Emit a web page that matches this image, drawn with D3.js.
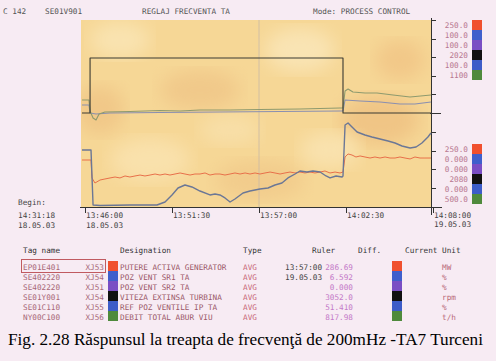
<!DOCTYPE html>
<html><head><meta charset="utf-8">
<script src="https://cdn.jsdelivr.net/npm/d3@7"></script>
<style>
html,body{margin:0;padding:0;background:#f7ebf3;}
svg{display:block;}
.mono{font-family:"DejaVu Sans Mono",monospace;font-size:7.7px;}
</style></head>
<body><div id="chart"></div>
<script>
// ---------- DATA ----------
const header = ["C 142", "SE01V901", "REGLAJ FRECVENTA TA", "Mode: PROCESS CONTROL"];
const tickTimes = [0, 5.5, 11, 16.5, 22];              // minutes after 13:46:00
const tickLabels = ["13:46:00", "13:51:30", "13:57:00", "14:02:30", "14:08:00"];
const seriesColors = ["#f0502e", "#3f5fcc", "#7a4ec4", "#111111", "#3d5cc8", "#4f8a3c"];
const upperScaleLabels = ["250.0", "100.0", "100.0", "2020", "100.0", "1100"];
const lowerScaleLabels = ["250.0", "0.000", "0.000", "2080", "0.000", "500.0"];
const tagNames = ["EP01E401", "SE402220", "SE402220", "SE01Y001", "SE01C110", "NY00C100"];
const tagCodes = ["XJ53", "XJ54", "XJ51", "XJ54", "XJ55", "XJ56"];
const designations = ["PUTERE ACTIVA GENERATOR", "POZ VENT SR1 TA", "POZ VENT SR2 TA", "VITEZA EXTINSA TURBINA", "REF POZ VENTILE IP TA", "DEBIT TOTAL ABUR VIU"];
const types = ["AVG", "AVG", "AVG", "AVG", "AVG", "AVG"];
const rulerValues = ["286.69", "6.592", "0.000", "3052.0", "51.410", "817.98"];
const units = ["MW", "%", "%", "rpm", "%", "t/h"];

// Upper panel series (percent of panel height), [minute, value]
const speedStep = [[-0.19,0],[0.32,0],[0.32,59.1],[16.31,59.1],[16.31,0],[21.87,0]];
const steamFlow = [[-0.19,14.0],[0.25,14.0],[0.32,2.2],[0.51,-5.4],[0.70,-7.5],[0.89,-1.1],[1.26,1.1],[2.84,1.6],[4.74,2.7],[6.01,2.2],[7.27,3.2],[9.17,3.2],[11.06,3.8],[13.59,4.3],[16.12,5.4],[16.31,5.4],[16.44,23.7],[16.63,25.8],[16.94,22.6],[17.70,21.5],[18.46,21.5],[19.47,19.4],[20.55,17.2],[21.87,19.4]];
const valvePos2 = [[-0.19,8.6],[0.25,8.6],[0.32,0],[0.70,-1.1],[1.58,0],[4.74,0.5],[8.53,1.1],[12.33,1.6],[16.12,2.2],[16.31,2.2],[16.44,14.0],[17.39,12.9],[18.65,11.8],[19.91,9.7],[20.86,9.7],[21.87,11.8]];

// Lower panel series
const activePower = [[-0.19,50.0],[0.38,50.0],[0.44,30.9],[0.63,25.5],[0.95,28.7],[1.26,29.8],[1.58,30.9],[1.90,31.9],[2.21,30.9],[2.53,33.0],[2.84,31.9],[3.16,33.0],[3.48,34.0],[3.79,33.0],[4.11,34.0],[4.43,35.1],[4.74,34.0],[5.06,35.1],[5.37,34.0],[5.69,35.1],[6.01,36.2],[6.32,35.1],[6.64,34.0],[6.95,35.1],[7.27,35.1],[7.59,36.2],[7.90,34.0],[8.22,35.1],[8.53,35.1],[8.85,34.0],[9.17,35.1],[9.48,36.2],[9.80,35.1],[10.12,36.2],[10.43,35.1],[10.75,36.2],[11.06,35.1],[11.38,36.2],[11.70,37.2],[12.01,36.2],[12.33,35.1],[12.64,36.2],[12.96,37.2],[13.28,36.2],[13.59,37.2],[13.91,36.2],[14.22,37.2],[14.54,36.2],[14.86,37.2],[15.17,38.3],[15.49,36.2],[15.81,37.2],[16.12,36.2],[16.31,37.2],[16.44,53.2],[16.63,56.4],[16.88,55.3],[17.13,53.2],[17.39,54.3],[17.70,53.2],[18.02,52.1],[18.33,53.2],[18.65,52.1],[18.97,53.2],[19.28,52.1],[19.60,52.1],[19.91,53.2],[20.23,52.1],[20.55,51.1],[20.86,53.2],[21.18,52.1],[21.49,52.1],[21.87,52.1]];
const valvePos1 = [[-0.19,60.6],[0.38,60.6],[0.51,2.1],[0.95,1.6],[2.84,2.1],[4.55,2.1],[5.06,5.3],[5.50,12.8],[5.88,20.2],[6.32,23.4],[6.76,21.3],[7.27,17.0],[7.90,12.8],[8.22,13.8],[8.53,12.8],[8.85,9.6],[9.17,5.3],[9.48,8.5],[9.99,14.9],[10.43,17.0],[11.06,19.1],[11.57,20.2],[12.01,23.4],[12.45,25.5],[12.83,30.9],[13.28,35.1],[13.59,38.3],[14.03,37.2],[14.41,38.3],[14.86,37.2],[15.24,33.0],[15.49,30.9],[15.87,33.0],[16.25,31.9],[16.31,33.0],[16.44,87.2],[16.63,89.4],[16.88,85.1],[17.20,79.8],[17.70,76.6],[18.14,74.5],[18.65,72.3],[19.16,70.2],[19.60,68.1],[20.04,64.9],[20.55,62.8],[20.93,63.8],[21.30,68.1],[21.68,74.5],[21.87,78.7]];

// ---------- DRAW ----------
const W = 496, H = 361;
const svg = d3.select("#chart").append("svg").attr("width", W).attr("height", H);
const defs = svg.append("defs");
defs.append("filter").attr("id","blur").append("feGaussianBlur").attr("stdDeviation", 9);
defs.append("clipPath").attr("id","plotclip").append("rect").attr("x",81).attr("y",20).attr("width",350).attr("height",187);

const plotL = 81, plotR = 431, plotT = 20, plotMid = 113, plotB = 207;
const x = d3.scaleLinear().domain([0, 22]).range([85, 433]);
const yU = d3.scaleLinear().domain([0, 100]).range([plotMid, plotT]);
const yL = d3.scaleLinear().domain([0, 100]).range([plotB, plotMid]);

// plot background (mottled yellow)
const bg = svg.append("g").attr("clip-path","url(#plotclip)");
bg.append("rect").attr("x",plotL).attr("y",plotT).attr("width",plotR-plotL).attr("height",plotB-plotT).attr("fill","#f6d796");
const blobs = [[120,40,30,18,"#f9e3b0"],[200,90,40,20,"#f1c98a"],[300,50,35,22,"#f9e4b4"],[380,120,40,25,"#f0c585"],[150,160,40,22,"#f9e1ac"],[260,180,45,20,"#f2cc8c"],[400,60,25,20,"#f2c888"],[330,150,30,18,"#f9e2ae"],[100,110,25,25,"#f1c888"],[230,130,30,15,"#f8dfa8"]];
bg.selectAll("ellipse").data(blobs).join("ellipse")
  .attr("cx",d=>d[0]).attr("cy",d=>d[1]).attr("rx",d=>d[2]).attr("ry",d=>d[3])
  .attr("fill",d=>d[4]).attr("filter","url(#blur)");

// grid line at 13:57:00
svg.append("line").attr("x1",x(11)).attr("x2",x(11)).attr("y1",plotT).attr("y2",plotB)
  .attr("stroke","#c9b9a6").attr("stroke-width",0.8);

// right axis
const axR = svg.append("g").attr("stroke","#333").attr("stroke-width",1);
axR.append("line").attr("x1",plotR+0.5).attr("x2",plotR+0.5).attr("y1",plotT-2).attr("y2",plotB+8);
const rTicksU = d3.range(0,101,20), rTicksL = d3.range(0,100,20);
axR.selectAll(".tu").data(rTicksU).join("line").attr("x1",plotR).attr("x2",plotR+5)
  .attr("y1",d=>Math.round(yU(d))+0.5).attr("y2",d=>Math.round(yU(d))+0.5);
axR.selectAll(".tl").data(rTicksL).join("line").attr("x1",plotR).attr("x2",plotR+5)
  .attr("y1",d=>Math.round(yL(d))+0.5).attr("y2",d=>Math.round(yL(d))+0.5);
axR.append("line").attr("x1",plotR-1).attr("x2",plotR+10).attr("y1",plotMid+0.5).attr("y2",plotMid+0.5);

// bottom axis
const axB = svg.append("g").attr("stroke","#333").attr("stroke-width",1);
axB.append("line").attr("x1",80).attr("x2",plotR+11).attr("y1",plotB+0.5).attr("y2",plotB+0.5);
axB.selectAll(".bt").data(tickTimes).join("line")
  .attr("x1",d=>Math.round(x(d))+0.5).attr("x2",d=>Math.round(x(d))+0.5)
  .attr("y1",plotB).attr("y2",plotB+6);

const line = (ys) => d3.line().x(d=>x(d[0])).y(d=>ys(d[1]));
const lines = svg.append("g").attr("fill","none").attr("stroke-linejoin","round");
lines.append("path").datum(valvePos2).attr("d",line(yU)).attr("stroke","#8a8fb0").attr("stroke-width",1.1);
lines.append("path").datum(steamFlow).attr("d",line(yU)).attr("stroke","#8e9a6e").attr("stroke-width",1.1);
lines.append("path").datum(speedStep).attr("d",line(yU)).attr("stroke","#3a3a32").attr("stroke-width",1.1);
lines.append("path").datum(activePower).attr("d",line(yL)).attr("stroke","#e8704a").attr("stroke-width",1);
lines.append("path").datum(valvePos1).attr("d",line(yL)).attr("stroke","#6b7796").attr("stroke-width",1.4);

// header
const hx = [3, 45, 142, 313];
svg.selectAll(".hdr").data(header).join("text").attr("class","mono")
  .attr("x",(d,i)=>hx[i]).attr("y",14).attr("fill","#555").text(d=>d);

// right scale labels and swatches
const sw = svg.append("g");
[[upperScaleLabels,20],[lowerScaleLabels,144]].forEach(([labs,y0])=>{
  sw.selectAll(null).data(labs).join("text").attr("class","mono")
    .attr("x",468).attr("y",(d,i)=>y0+8+i*10).attr("text-anchor","end").attr("fill","#b87890").text(d=>d);
  sw.selectAll(null).data(seriesColors).join("rect")
    .attr("x",472).attr("y",(d,i)=>y0+i*10).attr("width",10).attr("height",10).attr("fill",d=>d);
});

// time labels
const tl = svg.append("g").attr("class","mono").attr("fill","#444");
tl.selectAll(null).data(tickTimes).join("text").attr("x",d=>x(d)+1).attr("y",218).text((d,i)=>tickLabels[i]);
tl.append("text").attr("x",86).attr("y",228).text("18.05.03");
tl.append("text").attr("x",x(22)+1).attr("y",227).text("19.05.03");
tl.append("text").attr("x",18).attr("y",205).text("Begin:");
tl.append("text").attr("x",18).attr("y",218).text("14:31:18");
tl.append("text").attr("x",18).attr("y",228).text("18.05.03");

// table
const tb = svg.append("g").attr("class","mono");
const hdrs = [["Tag name",23],["Designation",120],["Type",243],["Ruler",312],["Diff.",358],["Current",405],["Unit",442]];
tb.selectAll(null).data(hdrs).join("text").attr("x",d=>d[1]).attr("y",253).attr("fill","#333").text(d=>d[0]);
const rowY = i => 270 + i*10;
tb.selectAll(null).data(tagNames).join("text").attr("x",23).attr("y",(d,i)=>rowY(i)).attr("fill","#a86878").text(d=>d);
tb.selectAll(null).data(tagCodes).join("text").attr("x",104).attr("y",(d,i)=>rowY(i)).attr("text-anchor","end").attr("fill","#a86878").text(d=>d);
tb.selectAll(null).data(designations).join("text").attr("x",120).attr("y",(d,i)=>rowY(i)).attr("fill","#9a5868").text(d=>d);
tb.selectAll(null).data(types).join("text").attr("x",243).attr("y",(d,i)=>rowY(i)).attr("fill","#c86878").text(d=>d);
tb.selectAll(null).data(rulerValues).join("text").attr("x",353).attr("y",(d,i)=>rowY(i)).attr("text-anchor","end").attr("fill","#c47ac8").text(d=>d);
tb.selectAll(null).data(units).join("text").attr("x",442).attr("y",(d,i)=>rowY(i)).attr("fill","#b86878").text(d=>d);
tb.append("text").attr("x",285).attr("y",rowY(0)).attr("fill","#444").text("13:57:00");
tb.append("text").attr("x",285).attr("y",rowY(1)).attr("fill","#444").text("19.05.03");
[108,392].forEach(sx=>{
  tb.selectAll(null).data(seriesColors).join("rect").attr("x",sx).attr("y",(d,i)=>261+i*10)
    .attr("width",10).attr("height",10).attr("fill",d=>d);
});
svg.append("rect").attr("x",21.5).attr("y",259.5).attr("width",84).attr("height",13)
  .attr("fill","none").attr("stroke","#c05a60").attr("stroke-width",1);

// caption
svg.append("text").attr("x",8).attr("y",345)
  .attr("font-family","'Liberation Serif','Times New Roman',serif").attr("font-size",17.2).attr("fill","#000")
  .text("Fig. 2.28 Răspunsul la treapta de frecvenţă de 200mHz -TA7 Turceni");
</script></body></html>
